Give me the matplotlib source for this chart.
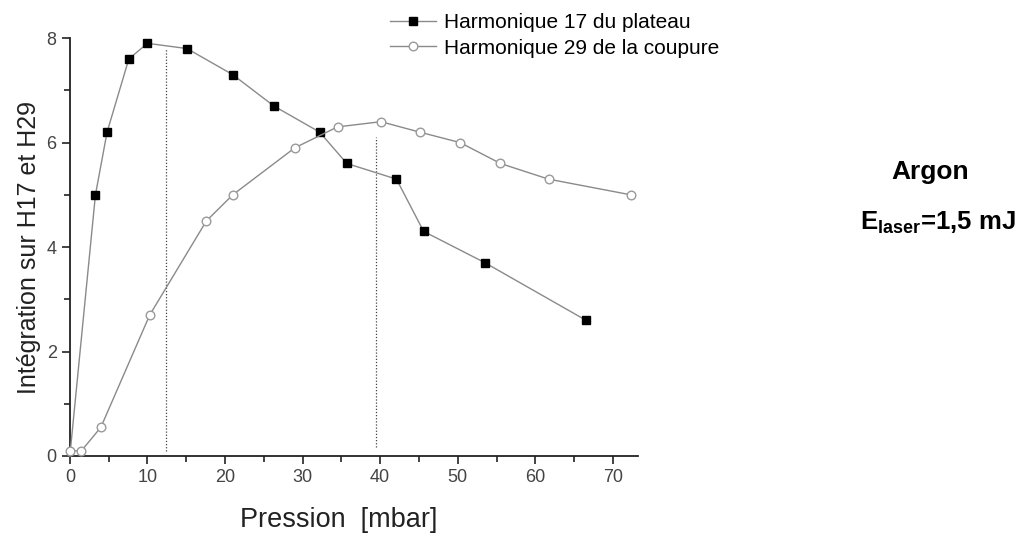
import matplotlib
matplotlib.use('Agg')
import matplotlib.pyplot as plt
from matplotlib.ticker import MultipleLocator

plt.rcParams['font.family'] = ['Liberation Sans', 'DejaVu Sans']

# Harmonique 17 (plateau)
p17 = [0, 3.3, 4.8, 7.6, 10.0, 15.1, 21.0, 26.3, 32.2, 35.7, 42.1, 45.6, 53.5, 66.5]
h17 = [0, 5.0, 6.2, 7.6, 7.9, 7.8, 7.3, 6.7, 6.2, 5.6, 5.3, 4.3, 3.7, 2.6]

# Harmonique 29 (coupure)
p29 = [0, 1.5, 4.0, 10.3, 17.6, 21.0, 29.0, 34.5, 40.1, 45.1, 50.3, 55.5, 61.7, 72.3]
h29 = [0.1, 0.1, 0.55, 2.7, 4.5, 5.0, 5.9, 6.3, 6.4, 6.2, 6.0, 5.6, 5.3, 5.0]

# dotted markers (x, y bottom, y top)
vlines_x = [12.4, 39.5]
vlines_lo = [0.1, 0.17]
vlines_hi = [7.8, 6.1]

fig = plt.figure(figsize=(10.27, 5.33), dpi=100)
ax = fig.add_axes([0.068, 0.1445, 0.553, 0.784])

ax.plot(p17, h17, color='#8a8a8a', lw=1.0, marker='s', ms=5.5, markevery=slice(1, None),
        mfc='black', mec='black', label='Harmonique 17 du plateau', clip_on=False, zorder=3)
ax.plot(p29, h29, color='#8a8a8a', lw=1.0, marker='o', ms=6.2,
        mfc='white', mec='#9a9a9a', mew=1.0, label='Harmonique 29 de la coupure', clip_on=False, zorder=3)

for x, lo, hi in zip(vlines_x, vlines_lo, vlines_hi):
    ax.vlines(x, lo, hi, colors='#444444', linestyles=(0, (1, 1.5)), lw=0.9)

ax.set_xlim(0, 73.2)
ax.set_ylim(0, 8)
ax.xaxis.set_major_locator(MultipleLocator(10))
ax.xaxis.set_minor_locator(MultipleLocator(5))
ax.yaxis.set_major_locator(MultipleLocator(2))
ax.yaxis.set_minor_locator(MultipleLocator(1))
ax.spines['top'].set_visible(False)
ax.spines['right'].set_visible(False)
for s in ['left', 'bottom']:
    ax.spines[s].set_linewidth(1.3)
    ax.spines[s].set_color('#222222')
ax.tick_params(which='major', direction='out', length=6, width=1.2, labelsize=13,
               labelcolor='#444444', color='#222222')
ax.tick_params(which='minor', direction='out', length=4, width=1.2, color='#222222')

fig.text(339 / 1027, 1 - 520 / 533, 'Pression  [mbar]', fontsize=19.5, color='#222222',
         ha='center', va='center')
ax.set_ylabel('Intégration sur H17 et H29', fontsize=18, color='#222222', labelpad=4)

leg = ax.legend(loc='upper left', bbox_to_anchor=(0.549, 1.079), frameon=False,
                fontsize=15, handlelength=2.2, handletextpad=0.4, labelspacing=0.3,
                borderaxespad=0)

fig.text(0.906, 0.677, 'Argon', fontsize=19, fontweight='bold', ha='center', va='center')
fig.text(0.913, 0.582, r'E$_{\mathregular{laser}}$=1,5 mJ', fontsize=18.5, fontweight='bold',
         ha='center', va='center')

fig.savefig('out.png', dpi=100)
